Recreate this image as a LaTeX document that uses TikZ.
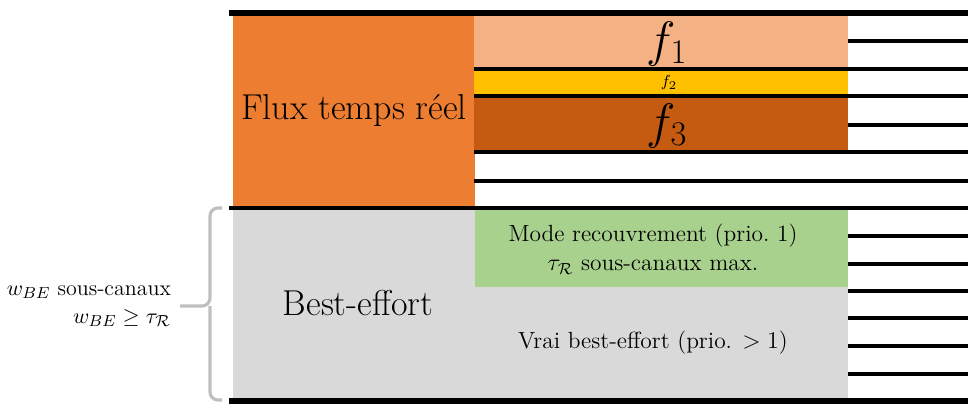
\documentclass[tikz,border=0pt]{standalone}
\usepackage{amsmath,amssymb}
\definecolor{rtorange}{HTML}{ED7D31}
\definecolor{fone}{HTML}{F4B183}
\definecolor{ftwo}{HTML}{FFC000}
\definecolor{fthree}{HTML}{C55A11}
\definecolor{begray}{HTML}{D9D9D9}
\definecolor{recgreen}{HTML}{A9D18E}
\definecolor{bracegray}{HTML}{BFBFBF}
\tikzset{
  thickline/.style={line width=3pt},
  midline/.style={line width=2.2pt},
  thinline/.style={line width=1.8pt},
  bigtxt/.style={font=\fontsize{18}{21}\selectfont},
  medtxt/.style={font=\fontsize{11.7}{14.5}\selectfont, align=center},
}
\begin{document}
\begin{tikzpicture}[x=0.5pt,y=-0.5pt]
\useasboundingbox (0,0) rectangle (968,405);
% boxes
\fill[rtorange] (233,14) rectangle (475,208);
\fill[fone] (474,14) rectangle (848,69);
\fill[ftwo] (474,69) rectangle (848,96);
\fill[fthree] (474,96) rectangle (848,152);
\fill[begray] (233,208) rectangle (848,400);
\fill[recgreen] (475,208) rectangle (848,287);
% texts
\node[bigtxt] (rt) at (354,110) {Flux temps réel};
\node[bigtxt] (be) at (358,303) {Best-effort};
\node[font=\fontsize{24}{28}\selectfont] (f1) at (667,44) {$f_1$};
\node[font=\fontsize{8}{9}\selectfont] (f2) at (669,83) {$f_2$};
\node[font=\fontsize{24}{28}\selectfont] (f3) at (667,126) {$f_3$};
\node[medtxt] (rec) at (653,249) {Mode recouvrement (prio.~1)\\$\tau_{\mathcal{R}}$ sous-canaux max.};
\node[medtxt] (vbe) at (653,343) {Vrai best-effort (prio. $>1$)};
\node[font=\fontsize{11}{14}\selectfont, align=right, anchor=east] (lab) at (178,306) {$w_{BE}$ sous-canaux\\$w_{BE}\geq\tau_{\mathcal{R}}$};
% lines
\draw[thickline] (229,13) -- (968,13);
\draw[midline] (229,208) -- (968,208);
\draw[thickline] (229,401) -- (968,401);
\foreach \y in {41,125} \draw[thinline] (848,\y) -- (968,\y);
\foreach \y in {69,96,152,181} \draw[thinline] (474,\y) -- (968,\y);
\foreach \y in {236,264,291,318,346,374} \draw[thinline] (848,\y) -- (968,\y);
% brace
\draw[bracegray, line width=1.6pt, rounded corners=4pt] (222,208) -| (210,306) -- (180,306);
\draw[bracegray, line width=1.6pt, rounded corners=4pt] (222,400) -| (210,306);
\end{tikzpicture}
\end{document}
